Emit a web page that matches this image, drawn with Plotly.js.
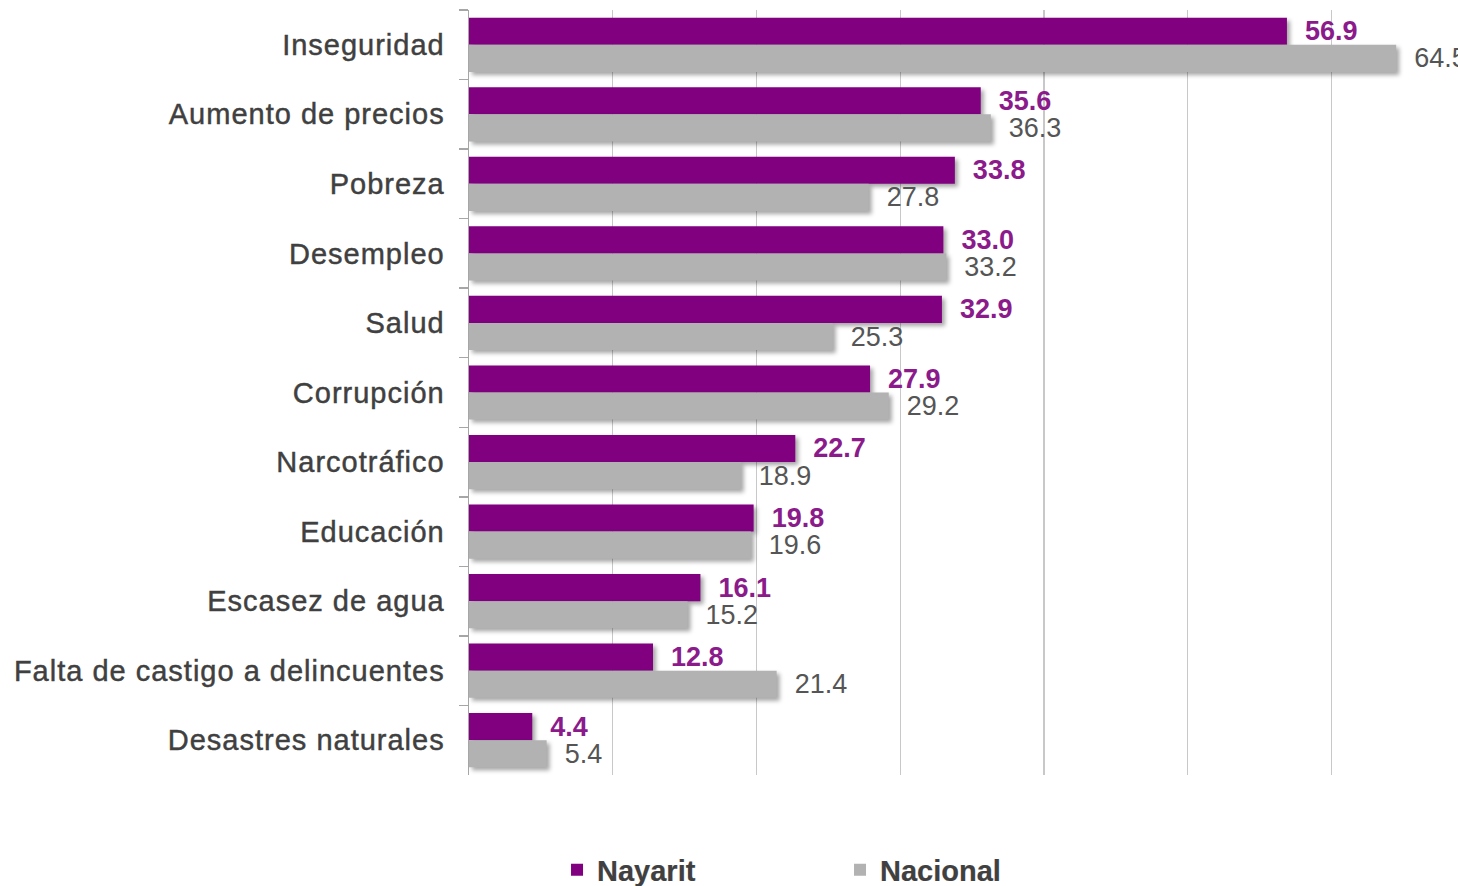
<!DOCTYPE html>
<html>
<head>
<meta charset="utf-8">
<script src="https://cdn.plot.ly/plotly-3.0.1.min.js"></script>
<style>
html,body{margin:0;padding:0;background:#fff;}
#chart{width:1458px;height:886px;}
.barlayer .point path{filter:drop-shadow(3px 3px 2px rgba(0,0,0,0.35));}
.ytick text{letter-spacing:1px;stroke:#404040;stroke-width:0.45px;}
.legendtext{stroke:#404040;stroke-width:0.2px;}
</style>
</head>
<body>
<div id="chart"></div>
<script>
const categories = ["Inseguridad","Aumento de precios","Pobreza","Desempleo","Salud","Corrupción","Narcotráfico","Educación","Escasez de agua","Falta de castigo a delincuentes","Desastres naturales"];
const nayarit = [56.9,35.6,33.8,33.0,32.9,27.9,22.7,19.8,16.1,12.8,4.4];
const nacional = [64.5,36.3,27.8,33.2,25.3,29.2,18.9,19.6,15.2,21.4,5.4];
const seriesNames = ["Nayarit","Nacional"];

const pad = "\u00a0\u00a0";
const traces = [
  {type:"bar", orientation:"h", name:seriesNames[0], y:categories, x:nayarit,
   marker:{color:"#800080"}, text:nayarit.map(v=>pad+v.toFixed(1)), textposition:"outside",
   cliponaxis:false, constraintext:"none",
   textfont:{family:"Liberation Sans, Arial, sans-serif", size:27, color:"#8B1A8B", weight:"bold"}, hoverinfo:"x"},
  {type:"bar", orientation:"h", name:seriesNames[1], y:categories, x:nacional,
   marker:{color:"#b2b2b2"}, text:nacional.map(v=>pad+v.toFixed(1)), textposition:"outside",
   cliponaxis:false, constraintext:"none",
   textfont:{family:"Liberation Sans, Arial, sans-serif", size:27, color:"#555555"}, hoverinfo:"x"}
];

const layout = {
  width:1458, height:886,
  margin:{l:469, r:0, t:10, b:111, autoexpand:false},
  paper_bgcolor:"#fff", plot_bgcolor:"#fff",
  barmode:"group", bargap:0.22, bargroupgap:0,
  font:{family:"Liberation Sans, Arial, sans-serif", color:"#404040"},
  xaxis:{range:[0,68.8], showgrid:true, gridcolor:"#c8c8c8", gridwidth:1.3, dtick:10, tick0:0,
         showticklabels:false, zeroline:false, showline:false, ticks:""},
  yaxis:{autorange:"reversed", type:"category", showline:true, linecolor:"#a6a6a6", linewidth:1.5,
         ticks:"outside", tickson:"boundaries", ticklen:9, tickcolor:"#a6a6a6", tickwidth:1.5,
         ticklabelstandoff:17, tickfont:{size:29, color:"#404040"}, showgrid:false},
  showlegend:true,
  legend:{orientation:"h", x:0.089, y:-0.124, xanchor:"left", yanchor:"middle",
          font:{size:29, color:"#404040", weight:"bold"}, entrywidth:238, traceorder:"normal"}
};

Plotly.newPlot("chart", traces, layout, {displayModeBar:false, staticPlot:true});
</script>
</body>
</html>
